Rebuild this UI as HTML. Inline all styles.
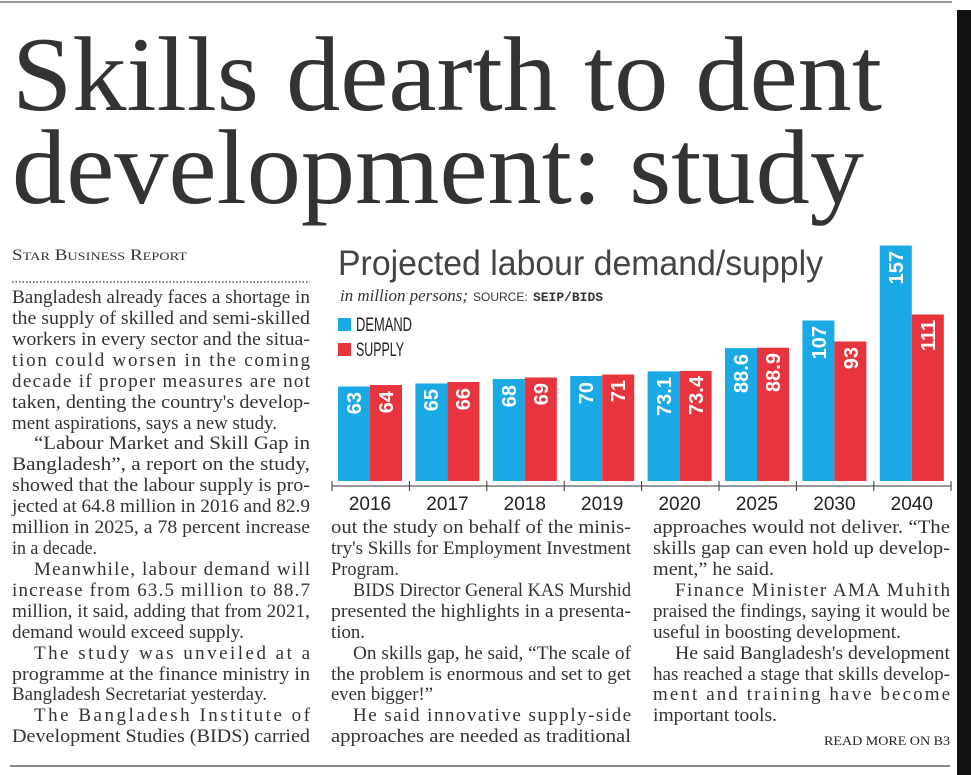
<!DOCTYPE html>
<html><head><meta charset="utf-8"><style>
html,body{margin:0;padding:0;background:#fff;}
svg{display:block;}
.b{font-family:"Liberation Serif",serif;font-size:19px;fill:#333;}
.yl{font-family:"Liberation Sans Narrow","Liberation Sans",sans-serif;font-size:19px;fill:#222;}
.v{font-family:"Liberation Sans Narrow","Liberation Sans",sans-serif;font-size:20px;font-weight:bold;fill:#fff;}
</style></head><body>
<svg width="971" height="775" viewBox="0 0 971 775" xmlns="http://www.w3.org/2000/svg">
<rect x="0" y="0" width="971" height="775" fill="#fff"/>
<rect x="0" y="1" width="952" height="2" fill="#999"/>
<rect x="957" y="10" width="14" height="765" fill="#111"/>
<text x="12" y="110" font-family="Liberation Serif,serif" font-size="106" fill="#333" textLength="870" lengthAdjust="spacingAndGlyphs">Skills dearth to dent</text>
<text x="12" y="203" font-family="Liberation Serif,serif" font-size="106" fill="#333" textLength="852" lengthAdjust="spacingAndGlyphs">development: study</text>

<text x="12" y="260" font-family="Liberation Serif,serif" font-size="16" fill="#333" textLength="175" lengthAdjust="spacingAndGlyphs">S<tspan font-size="12">TAR</tspan> B<tspan font-size="12">USINESS</tspan> R<tspan font-size="12">EPORT</tspan></text>
<line x1="12" y1="282" x2="310" y2="282" stroke="#555" stroke-width="1.5" stroke-dasharray="1.5 2"/>

<g class="b">
<text x="12" y="303" textLength="298" lengthAdjust="spacingAndGlyphs">Bangladesh already faces a shortage in</text>
<text x="12" y="324" textLength="298" lengthAdjust="spacingAndGlyphs">the supply of skilled and semi-skilled</text>
<text x="12" y="345" textLength="298" lengthAdjust="spacingAndGlyphs">workers in every sector and the situa-</text>
<text x="12" y="366" textLength="298" lengthAdjust="spacing">tion could worsen in the coming</text>
<text x="12" y="387" textLength="298" lengthAdjust="spacing">decade if proper measures are not</text>
<text x="12" y="408" textLength="298" lengthAdjust="spacingAndGlyphs">taken, denting the country's develop-</text>
<text x="12" y="429" textLength="265" lengthAdjust="spacingAndGlyphs">ment aspirations, says a new study.</text>
<text x="34" y="449" textLength="276" lengthAdjust="spacingAndGlyphs">“Labour Market and Skill Gap in</text>
<text x="12" y="470" textLength="298" lengthAdjust="spacingAndGlyphs">Bangladesh”, a report on the study,</text>
<text x="12" y="491" textLength="298" lengthAdjust="spacingAndGlyphs">showed that the labour supply is pro-</text>
<text x="12" y="512" textLength="298" lengthAdjust="spacingAndGlyphs">jected at 64.8 million in 2016 and 82.9</text>
<text x="12" y="533" textLength="298" lengthAdjust="spacingAndGlyphs">million in 2025, a 78 percent increase</text>
<text x="12" y="554" textLength="85" lengthAdjust="spacingAndGlyphs">in a decade.</text>
<text x="34" y="575" textLength="276" lengthAdjust="spacing">Meanwhile, labour demand will</text>
<text x="12" y="596" textLength="298" lengthAdjust="spacing">increase from 63.5 million to 88.7</text>
<text x="12" y="617" textLength="298" lengthAdjust="spacingAndGlyphs">million, it said, adding that from 2021,</text>
<text x="12" y="638" textLength="232" lengthAdjust="spacingAndGlyphs">demand would exceed supply.</text>
<text x="34" y="659" textLength="276" lengthAdjust="spacing">The study was unveiled at a</text>
<text x="12" y="680" textLength="298" lengthAdjust="spacingAndGlyphs">programme at the finance ministry in</text>
<text x="12" y="700" textLength="255" lengthAdjust="spacingAndGlyphs">Bangladesh Secretariat yesterday.</text>
<text x="34" y="721" textLength="276" lengthAdjust="spacing">The Bangladesh Institute of</text>
<text x="12" y="742" textLength="298" lengthAdjust="spacingAndGlyphs">Development Studies (BIDS) carried</text>

<text x="331" y="533" textLength="300" lengthAdjust="spacingAndGlyphs">out the study on behalf of the minis-</text>
<text x="331" y="554" textLength="300" lengthAdjust="spacingAndGlyphs">try's Skills for Employment Investment</text>
<text x="331" y="575" textLength="68" lengthAdjust="spacingAndGlyphs">Program.</text>
<text x="353" y="596" textLength="278" lengthAdjust="spacingAndGlyphs">BIDS Director General KAS Murshid</text>
<text x="331" y="617" textLength="300" lengthAdjust="spacingAndGlyphs">presented the highlights in a presenta-</text>
<text x="331" y="638" textLength="34" lengthAdjust="spacingAndGlyphs">tion.</text>
<text x="353" y="659" textLength="278" lengthAdjust="spacingAndGlyphs">On skills gap, he said, “The scale of</text>
<text x="331" y="680" textLength="300" lengthAdjust="spacingAndGlyphs">the problem is enormous and set to get</text>
<text x="331" y="700" textLength="102" lengthAdjust="spacingAndGlyphs">even bigger!”</text>
<text x="353" y="721" textLength="278" lengthAdjust="spacing">He said innovative supply-side</text>
<text x="331" y="742" textLength="300" lengthAdjust="spacingAndGlyphs">approaches are needed as traditional</text>

<text x="653" y="533" textLength="297" lengthAdjust="spacingAndGlyphs">approaches would not deliver. “The</text>
<text x="653" y="554" textLength="297" lengthAdjust="spacingAndGlyphs">skills gap can even hold up develop-</text>
<text x="653" y="575" textLength="121" lengthAdjust="spacingAndGlyphs">ment,” he said.</text>
<text x="675" y="596" textLength="275" lengthAdjust="spacing">Finance Minister AMA Muhith</text>
<text x="653" y="617" textLength="297" lengthAdjust="spacingAndGlyphs">praised the findings, saying it would be</text>
<text x="653" y="638" textLength="248" lengthAdjust="spacingAndGlyphs">useful in boosting development.</text>
<text x="675" y="659" textLength="275" lengthAdjust="spacingAndGlyphs">He said Bangladesh's development</text>
<text x="653" y="680" textLength="297" lengthAdjust="spacingAndGlyphs">has reached a stage that skills develop-</text>
<text x="653" y="700" textLength="297" lengthAdjust="spacing">ment and training have become</text>
<text x="653" y="721" textLength="124" lengthAdjust="spacingAndGlyphs">important tools.</text>
</g>
<text x="950" y="745" text-anchor="end" font-family="Liberation Serif,serif" font-size="13" fill="#222" textLength="126" lengthAdjust="spacingAndGlyphs">READ MORE ON B3</text>
<rect x="10" y="765" width="940" height="2" fill="#888"/>

<!-- chart -->
<text x="338" y="275" font-family="Liberation Sans,sans-serif" font-size="35" fill="#444" textLength="485" lengthAdjust="spacingAndGlyphs">Projected labour demand/supply</text>
<text x="340" y="301" font-family="Liberation Serif,serif" font-size="17" font-style="italic" fill="#333" textLength="128" lengthAdjust="spacingAndGlyphs">in million persons;</text>
<text x="473" y="301" font-family="Liberation Sans,sans-serif" font-size="12" fill="#333">SOURCE:</text>
<text x="533" y="301" font-family="Liberation Mono,monospace" font-size="12.5" font-weight="bold" fill="#333" textLength="70" lengthAdjust="spacingAndGlyphs">SEIP/BIDS</text>
<rect x="338" y="318" width="13" height="13" fill="#19a9e5"/>
<text x="356" y="331" class="yl" font-size="17" textLength="56" lengthAdjust="spacingAndGlyphs">DEMAND</text>
<rect x="338" y="343" width="13" height="13" fill="#e8343c"/>
<text x="356" y="356" class="yl" font-size="17" textLength="48" lengthAdjust="spacingAndGlyphs">SUPPLY</text>

<g>
<rect x="338" y="386.5" width="32" height="94.5" fill="#19a9e5"/><rect x="370" y="385" width="32" height="96" fill="#e8343c"/>
<rect x="415.4" y="383.5" width="32" height="97.5" fill="#19a9e5"/><rect x="447.4" y="382" width="32" height="99" fill="#e8343c"/>
<rect x="492.8" y="379" width="32" height="102" fill="#19a9e5"/><rect x="524.8" y="377.5" width="32" height="103.5" fill="#e8343c"/>
<rect x="570.2" y="376" width="32" height="105" fill="#19a9e5"/><rect x="602.2" y="374.5" width="32" height="106.5" fill="#e8343c"/>
<rect x="647.6" y="371.4" width="32" height="109.6" fill="#19a9e5"/><rect x="679.6" y="370.9" width="32" height="110.1" fill="#e8343c"/>
<rect x="725" y="348.1" width="32" height="132.9" fill="#19a9e5"/><rect x="757" y="347.7" width="32" height="133.3" fill="#e8343c"/>
<rect x="802.4" y="320.5" width="32" height="160.5" fill="#19a9e5"/><rect x="834.4" y="341.5" width="32" height="139.5" fill="#e8343c"/>
<rect x="879.8" y="245.5" width="32" height="235.5" fill="#19a9e5"/><rect x="911.8" y="314.5" width="32" height="166.5" fill="#e8343c"/>
</g>
<g class="v">
<text transform="translate(361,392) rotate(-90)" text-anchor="end">63</text>
<text transform="translate(393,391) rotate(-90)" text-anchor="end">64</text>
<text transform="translate(438,389) rotate(-90)" text-anchor="end">65</text>
<text transform="translate(470,388) rotate(-90)" text-anchor="end">66</text>
<text transform="translate(516,385) rotate(-90)" text-anchor="end">68</text>
<text transform="translate(548,383) rotate(-90)" text-anchor="end">69</text>
<text transform="translate(593,382) rotate(-90)" text-anchor="end">70</text>
<text transform="translate(625,380) rotate(-90)" text-anchor="end">71</text>
<text transform="translate(671,377) rotate(-90)" text-anchor="end">73.1</text>
<text transform="translate(703,376) rotate(-90)" text-anchor="end">73.4</text>
<text transform="translate(748,354) rotate(-90)" text-anchor="end">88.6</text>
<text transform="translate(780,353) rotate(-90)" text-anchor="end">88.9</text>
<text transform="translate(826,326) rotate(-90)" text-anchor="end">107</text>
<text transform="translate(858,347) rotate(-90)" text-anchor="end">93</text>
<text transform="translate(903,251) rotate(-90)" text-anchor="end">157</text>
<text transform="translate(935,320) rotate(-90)" text-anchor="end">111</text>
</g>
<line x1="332" y1="486" x2="951" y2="486" stroke="#333" stroke-width="1"/>
<g stroke="#333" stroke-width="1">
<line x1="332" y1="481" x2="332" y2="491"/><line x1="409.4" y1="481" x2="409.4" y2="491"/><line x1="486.8" y1="481" x2="486.8" y2="491"/><line x1="564.2" y1="481" x2="564.2" y2="491"/><line x1="641.6" y1="481" x2="641.6" y2="491"/><line x1="719" y1="481" x2="719" y2="491"/><line x1="796.4" y1="481" x2="796.4" y2="491"/><line x1="873.8" y1="481" x2="873.8" y2="491"/><line x1="951" y1="481" x2="951" y2="491"/>
</g>
<g class="yl" text-anchor="middle">
<text x="370" y="510">2016</text><text x="447.4" y="510">2017</text><text x="524.8" y="510">2018</text><text x="602.2" y="510">2019</text><text x="679.6" y="510">2020</text><text x="757" y="510">2025</text><text x="834.4" y="510">2030</text><text x="911.8" y="510">2040</text>
</g>
</svg>
</body></html>
